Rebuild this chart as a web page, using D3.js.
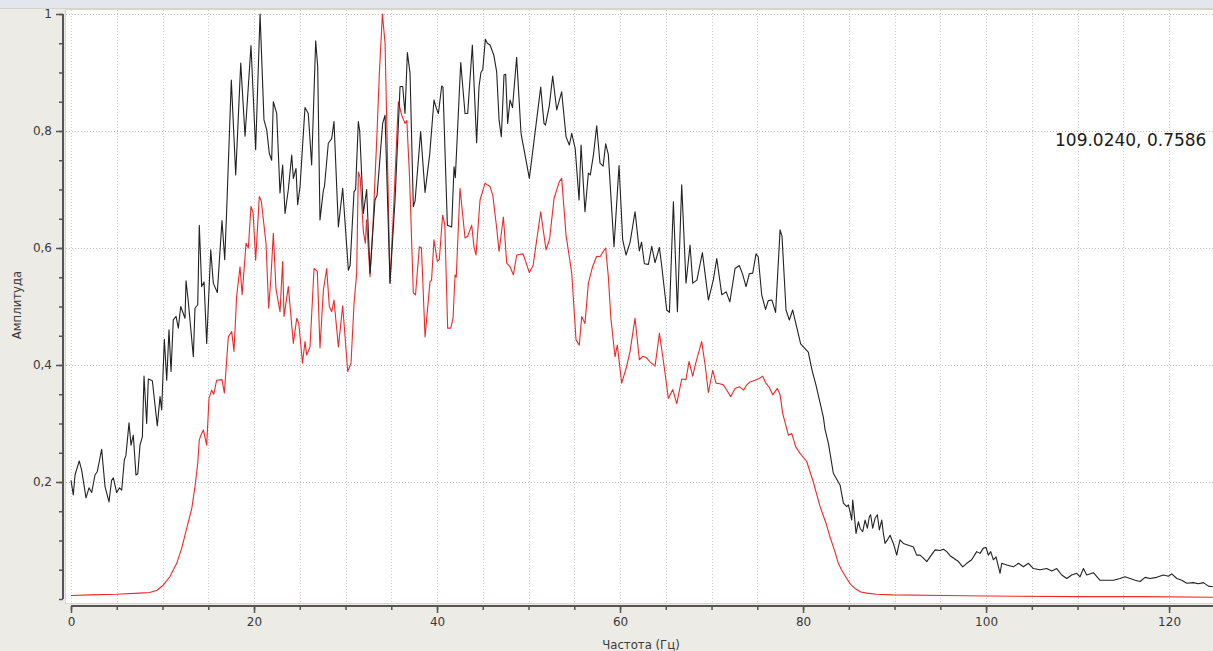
<!DOCTYPE html>
<html><head><meta charset="utf-8">
<script src="https://cdn.jsdelivr.net/npm/d3@7"></script>
<style>
html,body{margin:0;padding:0;background:#edebe6;}
svg{display:block;}
</style></head>
<body>
<svg id="chart" width="1213" height="651"></svg>
<script>
// ---- data ----
const blackFreq = [0,0.25,0.44,0.9,1.17,1.64,1.97,2.26,2.62,2.88,3.35,3.72,4.15,4.44,4.63,4.99,5.3,5.54,5.83,6.0,6.34,6.56,6.81,7.1,7.3,7.54,7.8,7.98,8.27,8.45,8.89,9.43,9.73,9.91,10.2,10.46,10.71,10.93,11.18,11.48,11.73,11.99,12.46,12.57,12.8,13.37,13.55,13.85,14.02,14.28,14.54,14.83,15.27,15.55,15.99,16.5,16.8,17.0,17.52,18.0,18.55,19.02,19.67,20.18,20.66,21.09,21.39,21.67,21.93,22.11,22.48,22.84,23.13,23.39,23.75,24.12,24.3,24.59,24.77,25.03,25.57,25.93,26.3,26.74,26.96,27.21,27.58,27.7,28.12,28.49,28.74,29.22,29.69,30.31,30.5,30.93,31.1,31.4,31.55,31.95,32.31,32.68,33.22,33.45,34.06,34.32,34.86,35.41,35.96,36.25,36.5,36.76,37.05,37.41,37.6,38.21,38.69,39.2,39.67,39.9,40.15,40.51,40.65,41.13,41.6,41.86,42.0,42.59,43.06,43.35,43.86,44.33,44.59,44.8,45.0,45.28,45.5,45.79,46.2,46.52,46.78,47.03,47.32,47.5,47.72,47.98,48.25,48.7,49.18,50.09,51.33,51.69,51.85,52.27,52.64,53.08,53.62,54.1,54.46,54.72,55.1,55.52,55.74,56.17,56.54,56.75,57.1,57.45,57.81,58.15,58.43,58.72,59.34,59.89,60.29,60.66,61.1,61.64,62.11,62.35,62.66,63.1,63.46,63.83,64.3,64.55,65.1,65.4,65.83,66.27,66.74,67.21,67.65,67.95,68.4,69.0,69.66,70.2,70.57,71.12,71.6,72.0,72.57,73.04,73.4,73.77,74.13,74.5,74.86,75.1,75.48,75.9,76.2,76.6,77.0,77.49,77.7,78.14,78.5,78.87,79.3,79.74,80.57,81.0,81.42,82.22,82.4,82.77,83.31,84.04,84.41,84.77,84.95,85.14,85.32,85.43,85.57,85.79,86.05,86.23,86.52,86.78,87.03,87.25,87.39,87.61,87.87,88.12,88.34,88.6,88.78,88.96,89.22,89.51,89.87,90.24,90.42,90.6,90.96,91.51,92.06,92.42,92.79,93.15,93.52,93.88,94.43,94.97,95.34,95.7,96.07,96.43,96.98,97.45,97.89,98.43,98.98,99.34,99.71,100.0,100.25,100.51,100.8,101.09,101.53,101.71,102.26,102.99,103.53,104.08,104.63,105.17,105.9,106.63,107.18,107.72,108.27,108.82,109.36,109.91,110.27,110.64,111.0,111.73,112.46,113.19,113.92,114.64,115.19,115.74,116.28,116.83,117.38,117.92,118.65,119.38,119.93,120.29,120.84,121.38,121.93,122.66,123.2,123.75,124.3,124.77];
const blackAmp = [0.203,0.178,0.212,0.236,0.22,0.173,0.19,0.182,0.212,0.218,0.256,0.192,0.166,0.203,0.207,0.182,0.19,0.186,0.238,0.245,0.301,0.263,0.28,0.212,0.214,0.263,0.277,0.381,0.30,0.376,0.373,0.296,0.346,0.323,0.444,0.374,0.46,0.389,0.477,0.483,0.463,0.50,0.48,0.544,0.511,0.414,0.497,0.503,0.639,0.534,0.542,0.437,0.597,0.54,0.524,0.647,0.58,0.659,0.887,0.725,0.916,0.791,0.946,0.768,1.0,0.819,0.802,0.762,0.75,0.85,0.83,0.694,0.742,0.659,0.70,0.759,0.719,0.736,0.674,0.705,0.84,0.83,0.742,0.954,0.91,0.648,0.699,0.705,0.779,0.787,0.816,0.636,0.702,0.562,0.57,0.696,0.70,0.816,0.80,0.659,0.70,0.557,0.682,0.69,0.813,0.827,0.54,0.682,0.876,0.876,0.83,0.934,0.899,0.671,0.68,0.799,0.695,0.76,0.853,0.84,0.83,0.877,0.875,0.639,0.636,0.739,0.72,0.917,0.83,0.83,0.947,0.78,0.876,0.90,0.905,0.957,0.95,0.947,0.93,0.901,0.819,0.79,0.896,0.897,0.813,0.853,0.84,0.926,0.796,0.719,0.875,0.813,0.81,0.843,0.894,0.836,0.867,0.79,0.776,0.796,0.77,0.682,0.776,0.662,0.728,0.725,0.76,0.809,0.745,0.74,0.778,0.76,0.602,0.741,0.614,0.588,0.61,0.662,0.595,0.61,0.573,0.572,0.603,0.575,0.601,0.57,0.494,0.49,0.679,0.491,0.708,0.54,0.605,0.54,0.545,0.592,0.511,0.546,0.582,0.52,0.525,0.508,0.565,0.57,0.555,0.534,0.556,0.557,0.59,0.585,0.52,0.495,0.51,0.511,0.49,0.631,0.62,0.494,0.477,0.494,0.465,0.436,0.422,0.39,0.365,0.311,0.29,0.266,0.215,0.195,0.164,0.158,0.161,0.149,0.135,0.169,0.149,0.112,0.132,0.121,0.115,0.135,0.121,0.141,0.144,0.121,0.138,0.144,0.118,0.135,0.112,0.095,0.101,0.109,0.095,0.075,0.089,0.101,0.095,0.092,0.089,0.075,0.075,0.07,0.064,0.072,0.084,0.083,0.085,0.081,0.074,0.07,0.064,0.055,0.061,0.067,0.081,0.078,0.087,0.088,0.075,0.081,0.067,0.072,0.044,0.061,0.058,0.055,0.061,0.055,0.061,0.052,0.05,0.052,0.048,0.052,0.041,0.035,0.041,0.044,0.038,0.052,0.041,0.045,0.032,0.032,0.032,0.035,0.038,0.035,0.032,0.03,0.037,0.035,0.037,0.041,0.039,0.043,0.035,0.032,0.027,0.028,0.026,0.028,0.022,0.021];

const redFreq = [0,2,5,7.5,8.6,9.4,10.1,10.8,11.55,12.1,12.6,13.2,13.55,13.85,14.02,14.2,14.46,14.83,15.08,15.37,15.6,15.92,16.5,16.76,17.19,17.56,17.81,18.1,18.47,18.7,19.13,19.38,19.67,19.9,20.18,20.58,20.8,21.31,21.6,21.85,22.11,22.4,22.84,23.13,23.28,23.75,24.3,24.67,24.9,25.3,25.57,25.76,26.12,26.56,26.92,27.21,27.58,27.94,28.23,28.49,28.74,29.22,29.69,30.24,30.6,30.93,31.22,31.4,31.6,31.95,32.17,32.3,32.68,33.04,33.41,33.7,34.03,34.32,34.5,34.86,35.3,35.77,36.14,36.5,36.7,37.0,37.41,37.65,38.07,38.3,38.69,39.23,39.4,39.67,40.03,40.25,40.61,40.85,41.16,41.5,41.75,41.97,42.1,42.51,43.06,43.35,43.79,44.04,44.26,44.7,45.25,45.5,45.79,46.1,46.52,46.78,47.25,47.62,47.98,48.34,48.71,49.4,50.09,50.5,51.33,51.91,52.3,52.79,53.36,53.62,54.1,54.72,55.19,55.55,55.81,56.17,56.54,57.0,57.45,57.8,58.43,58.72,59.0,59.45,59.7,60.18,60.66,61.09,61.64,62.11,62.5,62.84,63.3,63.83,64.3,64.8,65.28,65.76,66.2,66.74,67.2,67.54,67.94,68.3,68.92,69.3,69.65,70.13,70.49,70.9,71.29,71.7,72.1,72.57,73.04,73.5,73.8,74.2,74.75,75.2,75.59,75.9,76.3,76.69,77.19,77.49,77.78,78.4,78.76,79.2,79.67,80.4,81.12,81.86,82.5,82.95,83.5,83.86,84.2,84.77,85.2,85.68,86.3,86.96,88,89.8,95.5,100,110,117,124.8];
const redAmp = [0.006,0.007,0.008,0.01,0.011,0.015,0.024,0.038,0.061,0.087,0.118,0.155,0.192,0.232,0.272,0.28,0.289,0.263,0.343,0.357,0.35,0.374,0.375,0.352,0.448,0.457,0.423,0.517,0.568,0.52,0.608,0.6,0.671,0.66,0.579,0.688,0.68,0.608,0.497,0.55,0.625,0.53,0.491,0.577,0.483,0.534,0.437,0.48,0.47,0.403,0.44,0.417,0.431,0.565,0.56,0.429,0.528,0.565,0.5,0.491,0.511,0.431,0.501,0.389,0.403,0.505,0.557,0.73,0.72,0.628,0.608,0.648,0.551,0.653,0.785,0.899,1.0,0.95,0.82,0.54,0.682,0.85,0.827,0.813,0.818,0.72,0.523,0.52,0.602,0.60,0.448,0.542,0.545,0.614,0.577,0.58,0.656,0.64,0.463,0.463,0.48,0.554,0.55,0.702,0.617,0.62,0.639,0.602,0.588,0.682,0.711,0.708,0.705,0.69,0.634,0.594,0.653,0.574,0.568,0.554,0.588,0.59,0.558,0.57,0.662,0.597,0.615,0.685,0.713,0.719,0.622,0.557,0.443,0.434,0.483,0.471,0.54,0.568,0.586,0.585,0.6,0.551,0.48,0.414,0.434,0.369,0.394,0.423,0.48,0.409,0.415,0.413,0.405,0.398,0.454,0.40,0.343,0.358,0.334,0.376,0.375,0.406,0.381,0.405,0.44,0.40,0.353,0.391,0.369,0.368,0.366,0.356,0.346,0.36,0.363,0.357,0.365,0.371,0.374,0.377,0.381,0.37,0.362,0.349,0.36,0.349,0.317,0.28,0.283,0.26,0.249,0.235,0.2,0.158,0.13,0.106,0.08,0.061,0.05,0.035,0.025,0.018,0.012,0.01,0.008,0.007,0.006,0.005,0.004,0.004,0.003];

const xMajorTicks = [0,20,40,60,80,100,120];
const yMajorTicks = [0.2,0.4,0.6,0.8,1.0];
const xLabel = "Частота (Гц)";
const yLabel = "Амплитуда";
const cursorText = "109.0240, 0.7586";

// ---- drawing ----
(function(){
const svg = d3.select("#chart");
const W = 1213, H = 651;
const pL = 71, pR = 1213, pT = 14, pB = 599;
const x = d3.scaleLinear().domain([0, 124.8]).range([pL, pR]);
const y = d3.scaleLinear().domain([0, 1]).range([pB, pT]);

// top strip
svg.append("rect").attr("x",0).attr("y",0).attr("width",W).attr("height",8).attr("fill","#e3e6ec");
svg.append("line").attr("x1",0).attr("x2",W).attr("y1",8.5).attr("y2",8.5).attr("stroke","#d6d3cb");
// canvas
svg.append("rect").attr("x",65.5).attr("y",9.5).attr("width",W-65).attr("height",594)
  .attr("fill","#ffffff").attr("stroke","#d8d6d0");

// grid
const xMinor = d3.range(0, 125, 5);
const yMinor = d3.range(0, 1.0001, 0.05).map(v=>+v.toFixed(2));
const grid = svg.append("g");
grid.selectAll("line.vx").data(xMinor).join("line")
  .attr("x1",d=>Math.round(x(d))+0.5).attr("x2",d=>Math.round(x(d))+0.5)
  .attr("y1",10).attr("y2",603)
  .attr("stroke","#cfcfcf").attr("stroke-dasharray","1,2");
grid.selectAll("line.hy").data(yMajorTicks).join("line")
  .attr("x1",66).attr("x2",W)
  .attr("y1",d=>Math.round(y(d))+0.5).attr("y2",d=>Math.round(y(d))+0.5)
  .attr("stroke","#bdbdbd").attr("stroke-dasharray","1,2");

// lines
const line = d3.line().x(d=>x(d[0])).y(d=>y(d[1]));
svg.append("path").datum(redFreq.map((f,i)=>[f,redAmp[i]]))
  .attr("d",line).attr("fill","none").attr("stroke","#f02828").attr("stroke-width",1.1)
  .attr("stroke-linejoin","round");
svg.append("path").datum(blackFreq.map((f,i)=>[f,blackAmp[i]]))
  .attr("d",line).attr("fill","none").attr("stroke","#222").attr("stroke-width",1.1)
  .attr("stroke-linejoin","round");

// axes
const fmt = d => (d===1 ? "1" : d3.format(".1f")(d).replace(".", ","));
const yAxisMinor = d3.axisLeft(y).tickValues(yMinor).tickSize(4).tickFormat("");
const yAxisMajor = d3.axisLeft(y).tickValues(yMajorTicks).tickSize(7).tickPadding(4).tickFormat(fmt);
const gyMinor = svg.append("g").attr("transform","translate(63,0)").call(yAxisMinor);
const gyMajor = svg.append("g").attr("transform","translate(63,0)").call(yAxisMajor);
[gyMinor, gyMajor].forEach(g=>{
  g.select(".domain").attr("stroke","#555").attr("stroke-width",2).attr("d",`M0,${y(0)}V${y(1)}`);
  g.selectAll(".tick line").attr("stroke","#555").attr("stroke-width",1.5);
});
gyMajor.selectAll("text").attr("font-family","DejaVu Sans").attr("font-size",12).attr("fill","#3a3a3a");

const xMinorT = d3.range(0, 125, 5);
const xAxisMinor = d3.axisBottom(x).tickValues(xMinorT).tickSize(4).tickFormat("");
const xAxisMajor = d3.axisBottom(x).tickValues(xMajorTicks).tickSize(7).tickPadding(4).tickFormat(d3.format("d"));
const gxMinor = svg.append("g").attr("transform","translate(0,606)").call(xAxisMinor);
const gxMajor = svg.append("g").attr("transform","translate(0,606)").call(xAxisMajor);
[gxMinor, gxMajor].forEach(g=>{
  g.select(".domain").attr("stroke","#555").attr("stroke-width",2).attr("d",`M${x(0)},0H${W}`);
  g.selectAll(".tick line").attr("stroke","#555").attr("stroke-width",1.5);
});
gxMajor.selectAll("text").attr("font-family","DejaVu Sans").attr("font-size",12).attr("fill","#3a3a3a");

// titles
svg.append("text").attr("x",641).attr("y",649).attr("text-anchor","middle")
  .attr("font-family","DejaVu Sans Condensed, DejaVu Sans").attr("font-size",13).attr("fill","#3a3a3a").text(xLabel);
svg.append("text").attr("transform","translate(21,305) rotate(-90)").attr("text-anchor","middle")
  .attr("font-family","DejaVu Sans Condensed, DejaVu Sans").attr("font-size",13).attr("fill","#3a3a3a").text(yLabel);

// cursor readout
svg.append("text").attr("x",1055).attr("y",146)
  .attr("font-family","DejaVu Sans").attr("font-size",17).attr("fill","#1a1a1a").text(cursorText);
})();
</script>
</body></html>
